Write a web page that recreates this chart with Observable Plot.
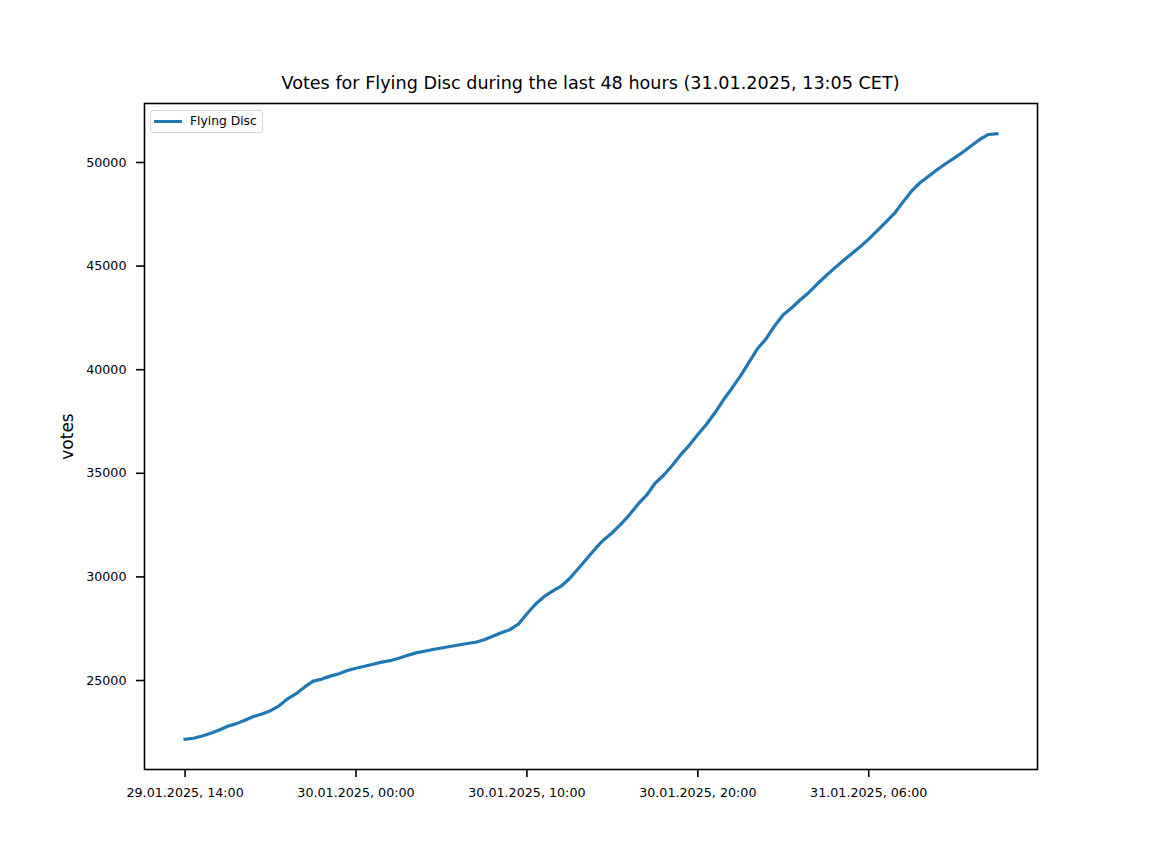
<!DOCTYPE html>
<html>
<head>
<meta charset="utf-8">
<script src="https://cdn.jsdelivr.net/npm/d3@7"></script>
<script src="https://cdn.jsdelivr.net/npm/@observablehq/plot@0.6"></script>
<style>
  html, body { margin: 0; padding: 0; background: #fff; }
  #wrap { position: relative; width: 1152px; height: 864px; font-family: "DejaVu Sans", sans-serif; }
  #title { position: absolute; left: 144px; top: 72px; width: 893px; text-align: center; font-size: 17.6px; line-height: 22px; color: #000; white-space: nowrap; }
  #chart { position: absolute; left: 0; top: 95px; }
  #legend { position: absolute; left: 150px; top: 110px; width: 111px; height: 21px; border: 1.5px solid #d6d6d6; border-radius: 3px; background: rgba(255,255,255,0.8); }
  #legend .swatch { position: absolute; left: 3px; top: 9px; width: 28px; height: 3px; background: #1f77b4; }
  #legend .lab { position: absolute; left: 39px; top: 2px; font-size: 12.3px; line-height: 16px; color: #000; white-space: nowrap; }
</style>
</head>
<body>
<div id="wrap">
  <div id="title"></div>
  <div id="chart"></div>
  <div id="legend"><div class="swatch"></div><div class="lab"></div></div>
</div>
<script>
const titleText = "Votes for Flying Disc during the last 48 hours (31.01.2025, 13:05 CET)";
const seriesName = "Flying Disc";
const yLabel = "votes";

// half-hourly samples, 29.01.2025 14:00 to 31.01.2025 13:30
const times = [
  "2025-01-29T14:00Z","2025-01-29T14:30Z","2025-01-29T15:00Z","2025-01-29T15:30Z","2025-01-29T16:00Z","2025-01-29T16:30Z",
  "2025-01-29T17:00Z","2025-01-29T17:30Z","2025-01-29T18:00Z","2025-01-29T18:30Z","2025-01-29T19:00Z","2025-01-29T19:30Z",
  "2025-01-29T20:00Z","2025-01-29T20:30Z","2025-01-29T21:00Z","2025-01-29T21:30Z","2025-01-29T22:00Z","2025-01-29T22:30Z",
  "2025-01-29T23:00Z","2025-01-29T23:30Z","2025-01-30T00:00Z","2025-01-30T00:30Z","2025-01-30T01:00Z","2025-01-30T01:30Z",
  "2025-01-30T02:00Z","2025-01-30T02:30Z","2025-01-30T03:00Z","2025-01-30T03:30Z","2025-01-30T04:00Z","2025-01-30T04:30Z",
  "2025-01-30T05:00Z","2025-01-30T05:30Z","2025-01-30T06:00Z","2025-01-30T06:30Z","2025-01-30T07:00Z","2025-01-30T07:30Z",
  "2025-01-30T08:00Z","2025-01-30T08:30Z","2025-01-30T09:00Z","2025-01-30T09:30Z","2025-01-30T10:00Z","2025-01-30T10:30Z",
  "2025-01-30T11:00Z","2025-01-30T11:30Z","2025-01-30T12:00Z","2025-01-30T12:30Z","2025-01-30T13:00Z","2025-01-30T13:30Z",
  "2025-01-30T14:00Z","2025-01-30T14:30Z","2025-01-30T15:00Z","2025-01-30T15:30Z","2025-01-30T16:00Z","2025-01-30T16:30Z",
  "2025-01-30T17:00Z","2025-01-30T17:30Z","2025-01-30T18:00Z","2025-01-30T18:30Z","2025-01-30T19:00Z","2025-01-30T19:30Z",
  "2025-01-30T20:00Z","2025-01-30T20:30Z","2025-01-30T21:00Z","2025-01-30T21:30Z","2025-01-30T22:00Z","2025-01-30T22:30Z",
  "2025-01-30T23:00Z","2025-01-30T23:30Z","2025-01-31T00:00Z","2025-01-31T00:30Z","2025-01-31T01:00Z","2025-01-31T01:30Z",
  "2025-01-31T02:00Z","2025-01-31T02:30Z","2025-01-31T03:00Z","2025-01-31T03:30Z","2025-01-31T04:00Z","2025-01-31T04:30Z",
  "2025-01-31T05:00Z","2025-01-31T05:30Z","2025-01-31T06:00Z","2025-01-31T06:30Z","2025-01-31T07:00Z","2025-01-31T07:30Z",
  "2025-01-31T08:00Z","2025-01-31T08:30Z","2025-01-31T09:00Z","2025-01-31T09:30Z","2025-01-31T10:00Z","2025-01-31T10:30Z",
  "2025-01-31T11:00Z","2025-01-31T11:30Z","2025-01-31T12:00Z","2025-01-31T12:30Z","2025-01-31T13:00Z","2025-01-31T13:30Z"
];
const votes = [
  22167, 22215, 22321, 22452, 22616, 22795,
  22920, 23080, 23263, 23383, 23545, 23779,
  24117, 24363, 24690, 24971, 25068, 25212,
  25328, 25483, 25594, 25690, 25787, 25890,
  25957, 26076, 26206, 26335, 26414, 26496,
  26568, 26641, 26713, 26786, 26848, 26964,
  27133, 27307, 27452, 27717, 28220, 28683,
  29045, 29311, 29551, 29923, 30396, 30879,
  31361, 31796, 32133, 32544, 32997, 33509,
  33943, 34522, 34908, 35376, 35898, 36351,
  36873, 37355, 37920, 38547, 39107, 39706,
  40362, 41023, 41500, 42124, 42650, 42988,
  43374, 43726, 44146, 44532, 44899, 45256,
  45599, 45932, 46299, 46709, 47120, 47539,
  48085, 48616, 49021, 49340, 49648, 49938,
  50208, 50492, 50806, 51110, 51351, 51385
];
const xTicks = ["2025-01-29T14:00Z","2025-01-30T00:00Z","2025-01-30T10:00Z","2025-01-30T20:00Z","2025-01-31T06:00Z"];
const yTicks = [25000, 30000, 35000, 40000, 45000, 50000];

const data = times.map((t, i) => ({date: new Date(t), votes: votes[i]}));

// matplotlib-style 5% margins
const tExt = d3.extent(data, d => +d.date);
const tPad = (tExt[1] - tExt[0]) * 0.05;
const vExt = d3.extent(votes);
const vPad = (vExt[1] - vExt[0]) * 0.05;

document.getElementById("title").textContent = titleText;
document.querySelector("#legend .lab").textContent = seriesName;

const fmt = d3.utcFormat("%d.%m.%Y, %H:%M");

const chart = Plot.plot({
  width: 1152,
  height: 769,
  marginTop: 8,
  marginBottom: 95,
  marginLeft: 144,
  marginRight: 115,
  style: {fontFamily: "DejaVu Sans, sans-serif", fontSize: "12.7px", color: "#000", background: "#fff"},
  x: {type: "utc", domain: [new Date(tExt[0] - tPad), new Date(tExt[1] + tPad)]},
  y: {domain: [vExt[0] - vPad, vExt[1] + vPad]},
  marks: [
    Plot.axisX({ticks: xTicks.map(t => new Date(t)), tickFormat: fmt, tickSize: 8, tickPadding: 10, strokeWidth: 1.6, label: null, fontSize: 12.7}),
    Plot.axisY({ticks: yTicks, tickFormat: d => String(d), tickSize: 8, tickPadding: 10, strokeWidth: 1.6, label: null, fontSize: 12.7}),
    Plot.line(data, {x: "date", y: "votes", stroke: "#1f77b4", strokeWidth: 3.2, strokeLinejoin: "round", strokeLinecap: "square"}),
    Plot.frame({stroke: "#000", strokeWidth: 1.6}),
    Plot.text([yLabel], {frameAnchor: "left", dx: -77, rotate: -90, textAnchor: "middle", text: d => d, fontSize: 17, fill: "#000"})
  ]
});
document.getElementById("chart").appendChild(chart);
</script>
</body>
</html>
